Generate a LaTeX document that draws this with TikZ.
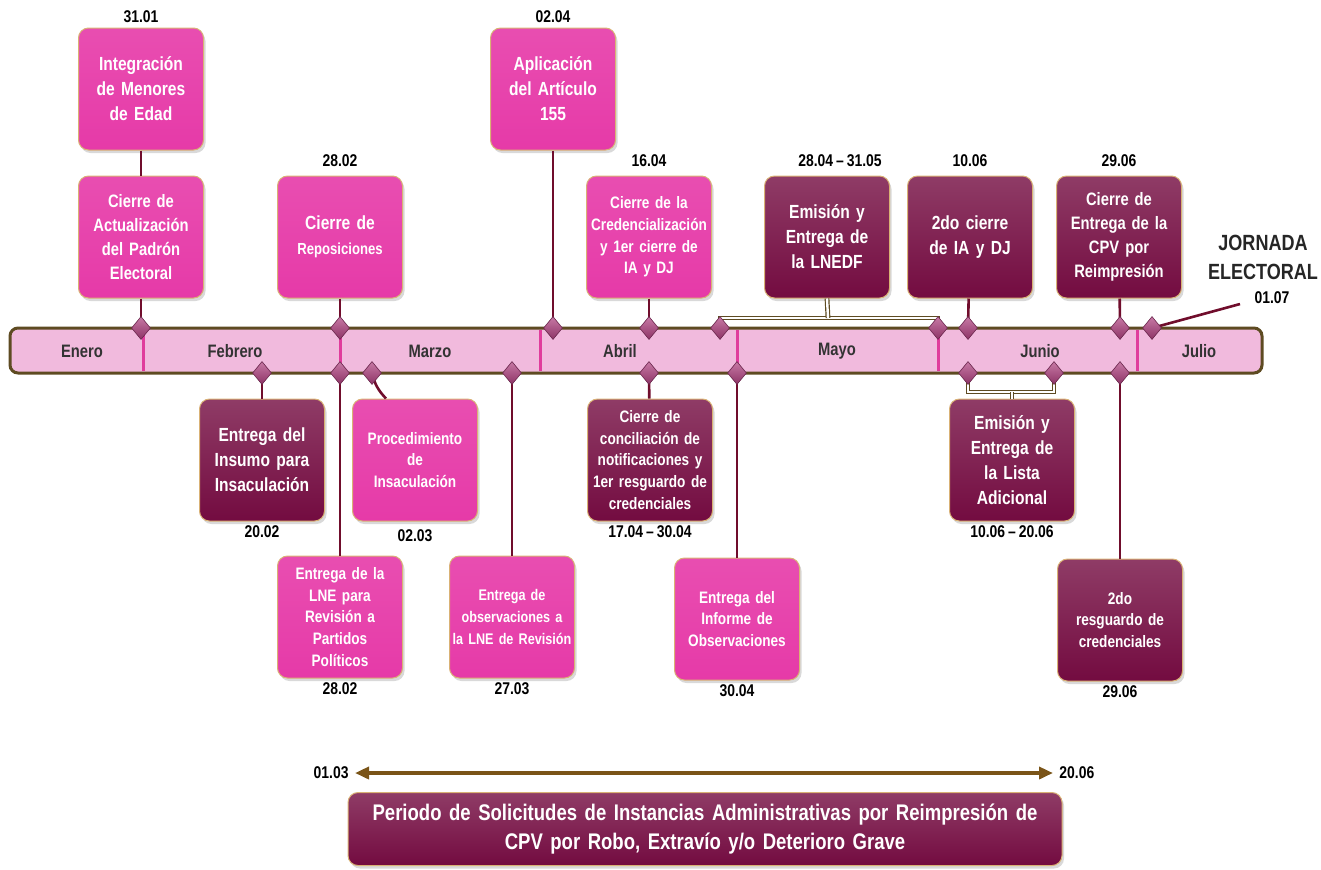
\documentclass[tikz,border=0pt]{standalone}
\usepackage{fontspec}
\setmainfont{Liberation Sans}[FakeStretch=0.82, WordSpace=0.75]
\usetikzlibrary{shapes.geometric,shadows,arrows.meta}

\definecolor{rosa}{HTML}{E63AA8}
\definecolor{vino}{HTML}{730B40}
\definecolor{barra}{HTML}{F1BADD}
\definecolor{borde}{HTML}{5E4B22}
\definecolor{linea}{HTML}{700D2C}
\definecolor{diamante}{HTML}{B0407F}
\definecolor{mes}{HTML}{E03C9C}
\definecolor{oro}{HTML}{D9B275}
\definecolor{cafe}{HTML}{7A5418}

\tikzset{
  caja/.style={rounded corners=5pt, minimum width=62.5pt, minimum height=61pt,
    text width=60pt, inner xsep=1pt, align=center, text=white, draw=oro, line width=0.5pt,
    font=\bfseries\fontsize{9.5}{12.5}\selectfont,
    drop shadow={opacity=0.3, shadow xshift=1pt, shadow yshift=-1.5pt}},
  cajarosa/.style={caja, top color=rosa!90!white, bottom color=rosa},
  cajavino/.style={caja, top color=vino!80!white, bottom color=vino},
  chica/.style={font=\bfseries\fontsize{8.3}{10.8}\selectfont},
  fecha/.style={font=\bfseries\fontsize{8.5}{10}\selectfont, inner sep=1pt},
  hito/.style={diamond, inner sep=0pt, minimum width=9.5pt, minimum height=11.5pt,
    top color=diamante!70!white, bottom color=diamante!80!black, draw=diamante!60!black, line width=0.3pt},
  conector/.style={draw=linea, line width=1.3pt},
  llave/.style={draw=borde, double=white, double distance=1.2pt, line width=0.6pt}
}

\begin{document}
\begin{tikzpicture}[x=0.5pt, y=-0.5pt]
\useasboundingbox (0,0) rectangle (1321,869);

% barra de meses
\draw[fill=barra, draw=borde, line width=1.5pt, rounded corners=4pt] (10,328) rectangle (1262,373);
\draw[mes, line width=1.5pt] (143,330) -- (143,371) (340,330) -- (340,371) (540,330) -- (540,371)
  (737,330) -- (737,371) (938,330) -- (938,371) (1137,330) -- (1137,371);
\node[font=\bfseries\fontsize{9}{10}\selectfont, text=black!80] (ene) at (82,351) {Enero};
\node[font=\bfseries\fontsize{9}{10}\selectfont, text=black!80] (feb) at (235,351) {Febrero};
\node[font=\bfseries\fontsize{9}{10}\selectfont, text=black!80] (mar) at (430,351) {Marzo};
\node[font=\bfseries\fontsize{9}{10}\selectfont, text=black!80] (abr) at (620,351) {Abril};
\node[font=\bfseries\fontsize{9}{10}\selectfont, text=black!80] (may) at (837,351) {Mayo};
\node[font=\bfseries\fontsize{9}{10}\selectfont, text=black!80] (jun) at (1040,351) {Junio};
\node[font=\bfseries\fontsize{9}{10}\selectfont, text=black!80] (jul) at (1199,351) {Julio};

% hitos
\coordinate (dt1) at (141,328);
\coordinate (dt2) at (340,328);
\coordinate (dt3) at (553,328);
\coordinate (dt4) at (649,328);
\coordinate (dt5) at (720,328);
\coordinate (dt6) at (938,328);
\coordinate (dt7) at (968,328);
\coordinate (dt8) at (1120,328);
\coordinate (dt9) at (1152,328);
\coordinate (db1) at (262,373);
\coordinate (db2) at (340,373);
\coordinate (db3) at (372,373);
\coordinate (db4) at (512,373);
\coordinate (db5) at (649,373);
\coordinate (db6) at (737,373);
\coordinate (db7) at (968,373);
\coordinate (db8) at (1054,373);
\coordinate (db9) at (1120,373);

% arriba
\node[cajarosa] (t1) at (141,89) {Integración\\de Menores\\de Edad};
\node[fecha, above=1pt] at (t1.north) {31.01};
\node[cajarosa, font=\bfseries\fontsize{9}{12}\selectfont] (t2) at (141,237) {Cierre de\\Actualización\\del Padrón\\Electoral};
\node[cajarosa] (t3) at (340,237) {Cierre de\\{\fontsize{8}{11}\selectfont Reposiciones}};
\node[fecha, above=3pt] at (t3.north) {28.02};
\node[cajarosa] (t4) at (553,89) {Aplicación\\del Artículo\\155};
\node[fecha, above=1pt] at (t4.north) {02.04};
\node[cajarosa, chica] (t5) at (649,237) {Cierre de la\\Credencialización\\y 1er cierre de\\IA y DJ};
\node[fecha, above=3pt] at (t5.north) {16.04};
\node[cajavino] (t6) at (827,237) {Emisión y\\Entrega de\\la LNEDF};
\node[fecha, above=3pt] at (840,175) {28.04 -- 31.05};
\node[cajavino] (t7) at (970,237) {2do cierre\\de IA y DJ};
\node[fecha, above=3pt] at (t7.north) {10.06};
\node[cajavino, font=\bfseries\fontsize{9}{12}\selectfont] (t8) at (1119,237) {Cierre de\\Entrega de la\\CPV por\\Reimpresión};
\node[fecha, above=3pt] at (t8.north) {29.06};
\node[font=\bfseries\fontsize{11}{14.5}\selectfont, align=center, text=black!85] (jor) at (1263,257) {JORNADA\\ELECTORAL};
\node[fecha] (j0107) at (1272,298) {01.07};
\coordinate (jfin) at (1240,304);

% abajo
\node[cajavino] (b1) at (262,460) {Entrega del\\Insumo para\\Insaculación};
\node[fecha, below=1pt] at (b1.south) {20.02};
\node[cajarosa, chica] (b2) at (340,617) {Entrega de la\\LNE para\\Revisión a\\Partidos\\Políticos};
\node[fecha, below=1pt] at (b2.south) {28.02};
\node[cajarosa, chica] (b3) at (415,460) {Procedimiento\\de\\Insaculación};
\node[fecha, below=3pt] at (b3.south) {02.03};
\node[cajarosa, font=\bfseries\fontsize{7.7}{10.8}\selectfont] (b4) at (512,617) {Entrega de\\observaciones a\\la LNE de Revisión};
\node[fecha, below=1pt] at (b4.south) {27.03};
\node[cajavino, chica] (b5) at (650,460) {Cierre de\\conciliación de\\notificaciones y\\1er resguardo de\\credenciales};
\node[fecha, below=1pt] at (b5.south) {17.04 -- 30.04};
\node[cajarosa, chica] (b6) at (737,619) {Entrega del\\Informe de\\Observaciones\\[8pt]};
\node[fecha, below=1pt] at (b6.south) {30.04};
\node[cajavino] (b7) at (1012,460) {Emisión y\\Entrega de\\la Lista\\Adicional};
\node[fecha, below=1pt] at (b7.south) {10.06 -- 20.06};
\node[cajavino, chica] (b8) at (1120,620) {2do\\resguardo de\\credenciales};
\node[fecha, below=1pt] at (b8.south) {29.06};

% conectores
\path[conector]
  (t1) edge (t2)
  (t2) edge (dt1)
  (t3) edge (dt2)
  (t4) edge (dt3)
  (t5) edge (dt4)
  (t7) edge (dt7)
  (t8) edge (dt8)
  (dt9) edge (jfin)
  (db1) edge (b1)
  (db2) edge (b2)
  (db3) edge[bend right=15] ([xshift=17pt]b3.north west)
  (db4) edge (b4)
  (db5) edge (b5)
  (db6) edge (b6)
  (db9) edge (b8);
\coordinate (lla) at (828,318);
\draw[llave] (dt5) |- (lla) -| (dt6);
\draw[llave] (lla) -- (t6.south);
\coordinate (llb) at (1012,392);
\draw[llave] (db7) |- (llb) -| (db8);
\draw[llave] (llb) -- (b7.north);

\foreach \d in {dt1,dt2,dt3,dt4,dt5,dt6,dt7,dt8,dt9,db1,db2,db3,db4,db5,db6,db7,db8,db9}
  \node[hito] at (\d) {};

% periodo
\coordinate (pi) at (355,773);
\coordinate (pf) at (1053,773);
\draw[cafe, line width=2pt, {Triangle[length=7pt,width=6pt]}-{Triangle[length=7pt,width=6pt]}] (pi) -- (pf);
\node[fecha, left=2pt] at (pi) {01.03};
\node[fecha, right=2pt] at (pf) {20.06};
\node[cajavino, minimum width=357pt, minimum height=36.5pt, text width=350pt,
  font=\bfseries\fontsize{11.3}{14.5}\selectfont] (per) at (705,829)
  {Periodo de Solicitudes de Instancias Administrativas por Reimpresión de\\CPV por Robo, Extravío y/o Deterioro Grave};
\end{tikzpicture}
\end{document}
